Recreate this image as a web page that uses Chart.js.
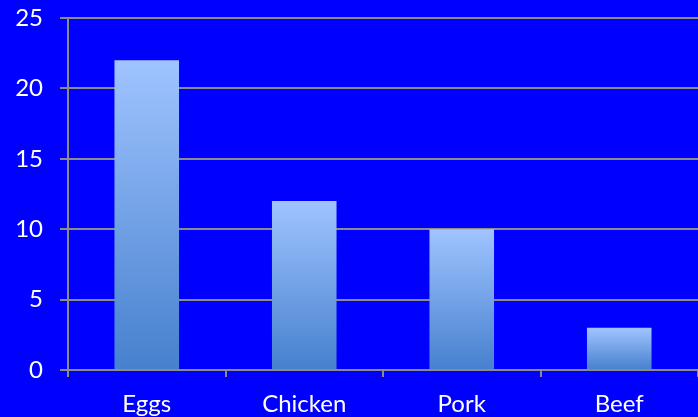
<!DOCTYPE html>
<html>
<head>
<meta charset="utf-8">
<script src="https://cdn.jsdelivr.net/npm/chart.js@4"></script>
<style>
    html, body { margin: 0; padding: 0; background: #0000ff; }
    #wrap { width: 698px; height: 417px; }
</style>
</head>
<body>
<div id="wrap"><canvas id="grafico"></canvas></div>
<script>
// dados
const categorias = ["Eggs", "Chicken", "Pork", "Beef"];
const valores = [22, 12, 10, 3];
const ticksY = [0, 5, 10, 15, 20, 25];

const corGrade = "#8c8c8c";
const fonte = { family: "Lato, 'Open Sans', sans-serif", size: 24 };

// gradiente de cada barra, do topo (claro) ate a base (escuro)
function gradienteBarra(ctx) {
    let chart = ctx.chart;
    let escalaY = chart.scales.y;
    if (!chart.chartArea || !escalaY) return "#8fb6f5";
    let topo = escalaY.getPixelForValue(valores[ctx.dataIndex]);
    let base = escalaY.getPixelForValue(0);
    if (!isFinite(topo) || !isFinite(base)) return "#8fb6f5";
    let g = chart.ctx.createLinearGradient(0, topo, 0, base);
    g.addColorStop(0, "rgb(160,196,255)");
    g.addColorStop(1, "rgb(70,128,206)");
    return g;
}

let grafico = new Chart(document.getElementById("grafico"), {
    type: "bar",
    data: {
        labels: categorias,
        datasets: [{
            data: valores,
            backgroundColor: gradienteBarra,
            barPercentage: 0.82,
            categoryPercentage: 0.5,
        }]
    },
    options: {
        responsive: true,
        maintainAspectRatio: false,
        animation: false,
        layout: { padding: { top: 18, right: -3, left: 0, bottom: 0 } },
        plugins: {
            legend: { display: false },
            tooltip: { enabled: false },
        },
        scales: {
            x: {
                grid: {
                    offset: true,
                    drawOnChartArea: false,
                    drawTicks: true,
                    tickLength: 7,
                    color: corGrade,
                    lineWidth: 2,
                },
                border: { color: corGrade, width: 2 },
                ticks: { color: "#ffffff", font: fonte, padding: 13 },
                afterFit: (escala) => {
                    escala.height = 47;
                    escala.paddingLeft = 0;
                    escala.paddingRight = 0;
                },
            },
            y: {
                min: 0,
                max: 25,
                afterBuildTicks: (escala) => { escala.ticks = ticksY.map(v => ({ value: v })); },
                grid: { color: corGrade, lineWidth: 2, tickLength: 8 },
                border: { color: corGrade, width: 2 },
                ticks: { color: "#ffffff", font: fonte, padding: 17 },
                afterFit: (escala) => {
                    escala.width = 68;
                    escala.paddingTop = 0;
                    escala.paddingBottom = 0;
                },
            }
        }
    }
});
grafico.update();
</script>
</body>
</html>
